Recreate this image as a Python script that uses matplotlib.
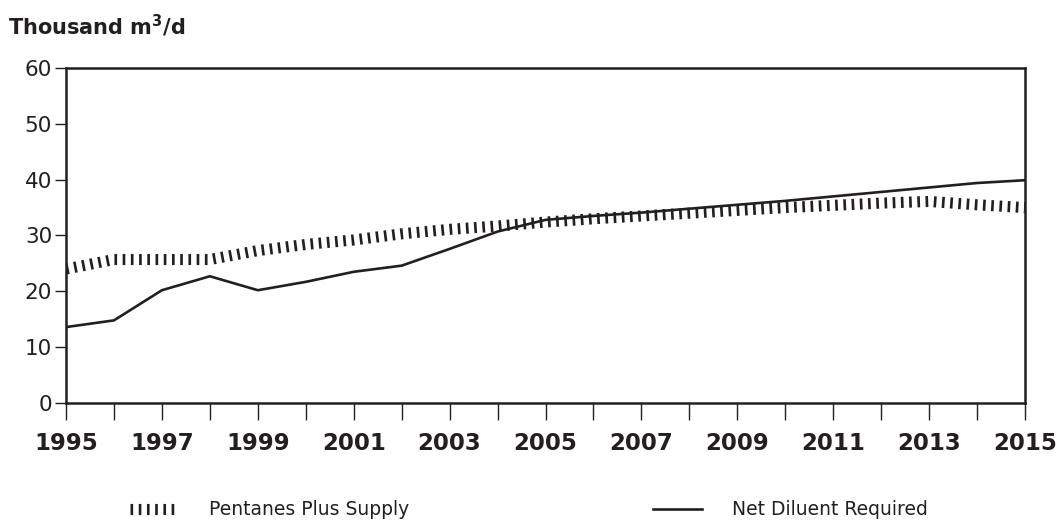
import numpy as np
import matplotlib
matplotlib.use('Agg')
import matplotlib.pyplot as plt

# data (thousand m3/d)
years = list(range(1995, 2016))
pentanes_supply = [24.0, 25.7, 25.7, 25.7, 27.3, 28.4, 29.2, 30.3, 31.1, 31.7, 32.4,
                   33.0, 33.5, 34.0, 34.5, 35.0, 35.4, 35.8, 36.1, 35.5, 35.0]
net_diluent = [13.6, 14.8, 20.2, 22.7, 20.2, 21.7, 23.5, 24.6, 27.6, 30.7, 32.8,
               33.5, 34.1, 34.8, 35.5, 36.2, 37.0, 37.8, 38.6, 39.4, 39.9]
label_years = [str(y) if (y - 1995) % 2 == 0 else '' for y in years]
yticks = [0, 10, 20, 30, 40, 50, 60]

plt.rcParams['font.family'] = ['DejaVu Sans']
ink = '#231f20'

fig = plt.figure(figsize=(10.58, 5.31), dpi=100)
ax = fig.add_axes([0.0624, 0.241, 0.9064, 0.631])

# hatched line: thick line with short butt dashes gives the tick look
ax.plot(years, pentanes_supply, color=ink, linewidth=8, dash_capstyle='butt',
        linestyle=(0, (0.24, 0.5)), label='Pentanes Plus Supply', zorder=2)
ax.plot(years, net_diluent, color=ink, linewidth=1.9, label='Net Diluent Required',
        zorder=3)

ax.set_xlim(1995, 2015)
ax.set_ylim(0, 60)
ax.set_xticks(years)
ax.set_xticklabels(label_years, fontsize=16.5, fontweight='bold', color=ink)
ax.set_yticks(yticks)
ax.set_yticklabels([str(v) for v in yticks], fontsize=15.5, color=ink)
ax.tick_params(axis='x', direction='out', length=12, width=1, pad=9, colors=ink)
ax.tick_params(axis='y', direction='out', length=8, width=1, pad=2, colors=ink)
for s in ax.spines.values():
    s.set_linewidth(1.8)
    s.set_color(ink)

fig.text(0.008, 0.935, r'Thousand m$^{\mathbf{3}}$/d', fontsize=15,
         fontweight='bold', color=ink)

leg = fig.legend(loc='center', bbox_to_anchor=(0.5, 0.04), ncol=2, frameon=False,
                 fontsize=13.5, handlelength=2.6, handletextpad=1.6,
                 columnspacing=13)
for t in leg.get_texts():
    t.set_color(ink)

fig.savefig('out.png', dpi=100)
